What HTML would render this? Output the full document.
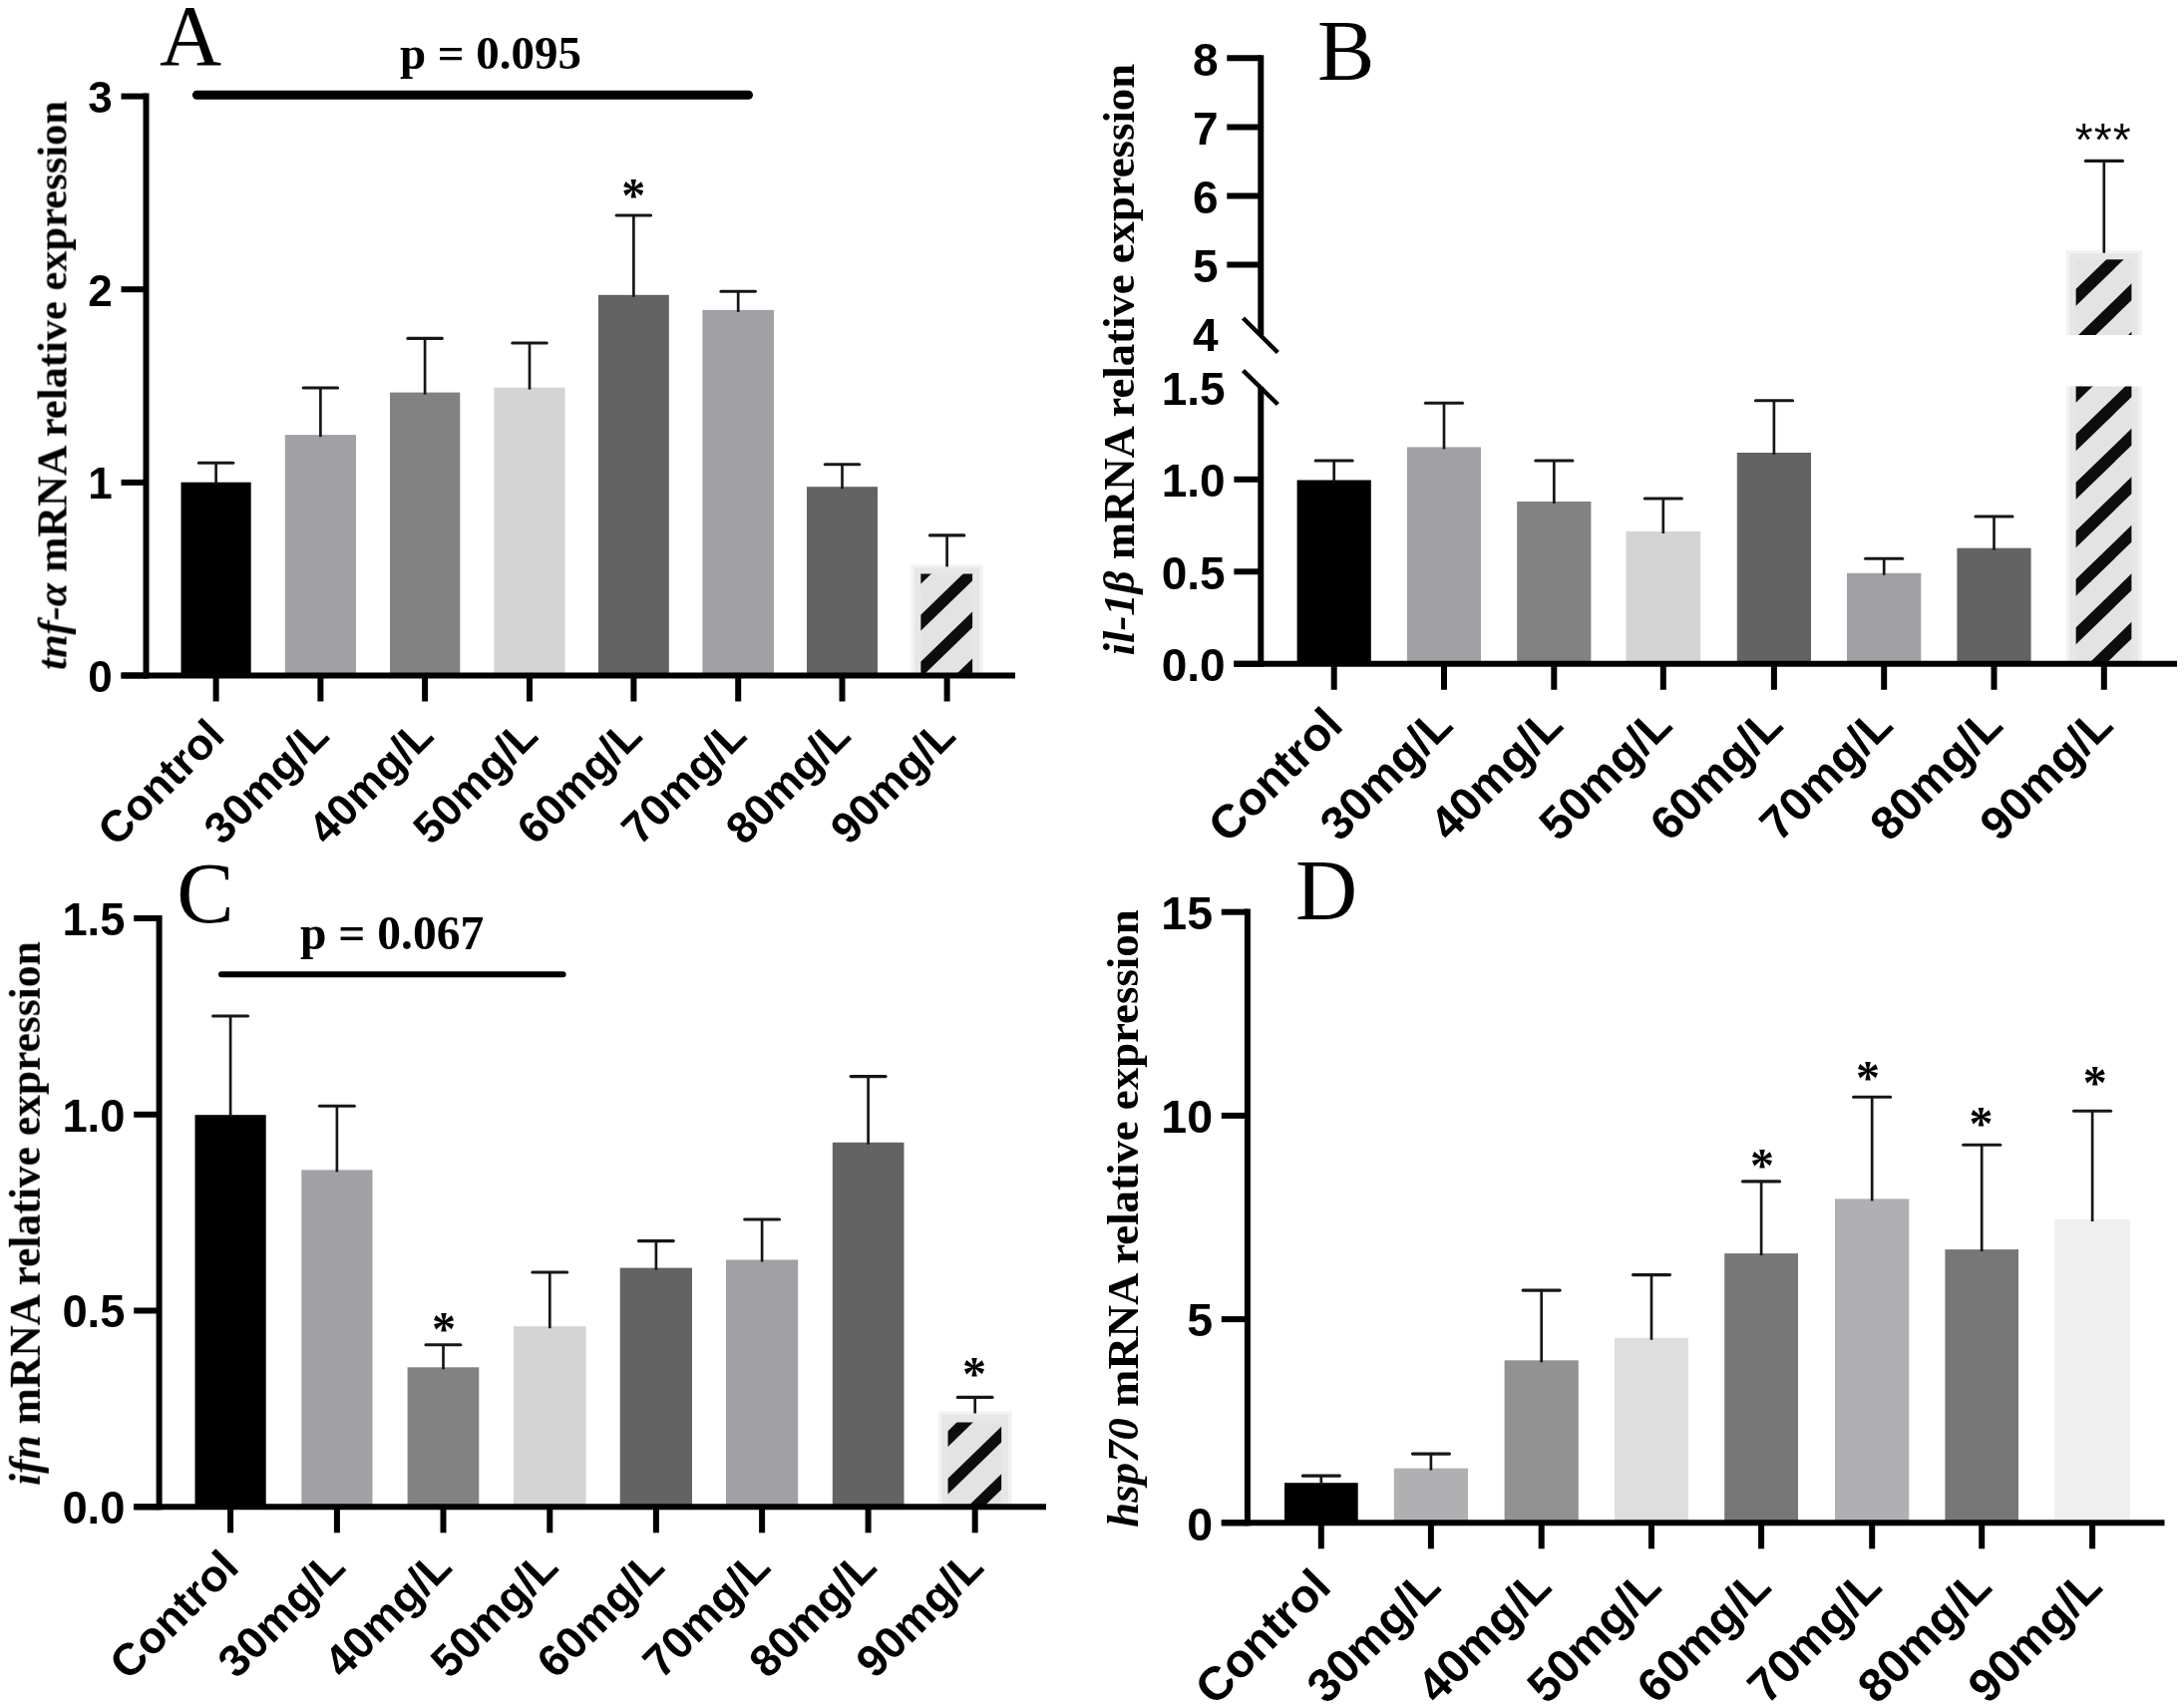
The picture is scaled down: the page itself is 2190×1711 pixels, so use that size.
<!DOCTYPE html>
<html lang="en">
<head>
<meta charset="utf-8">
<title>mRNA relative expression</title>
<style>html,body{margin:0;padding:0;background:#fff;}body{width:2190px;height:1711px;overflow:hidden;}svg text{fill:#000;}</style>
</head>
<body>
<svg width="2190" height="1711" viewBox="0 0 2190 1711" style="display:block">
<rect width="2190" height="1711" fill="#fff"/>
<g filter="url(#soft)">
<g id="panelA">
<rect x="181.5" y="483.7" width="70.2" height="193.8" fill="#000"/>
<line x1="216.6" y1="464.2" x2="216.6" y2="485.7" stroke="#181818" stroke-width="2.7" stroke-linecap="butt"/>
<line x1="199.4" y1="464.2" x2="233.8" y2="464.2" stroke="#181818" stroke-width="3.1" stroke-linecap="round"/>
<rect x="285.8" y="436.1" width="71.2" height="241.4" fill="#a1a0a5"/>
<line x1="321.4" y1="389" x2="321.4" y2="438.1" stroke="#181818" stroke-width="2.7" stroke-linecap="butt"/>
<line x1="304.2" y1="389" x2="338.6" y2="389" stroke="#181818" stroke-width="3.1" stroke-linecap="round"/>
<rect x="391" y="393.6" width="70.3" height="283.9" fill="#828282"/>
<line x1="426.1" y1="339.4" x2="426.1" y2="395.6" stroke="#181818" stroke-width="2.7" stroke-linecap="butt"/>
<line x1="408.9" y1="339.4" x2="443.3" y2="339.4" stroke="#181818" stroke-width="3.1" stroke-linecap="round"/>
<rect x="495.4" y="388.6" width="71.2" height="288.9" fill="#d4d4d4"/>
<line x1="531" y1="344" x2="531" y2="390.6" stroke="#181818" stroke-width="2.7" stroke-linecap="butt"/>
<line x1="513.8" y1="344" x2="548.2" y2="344" stroke="#181818" stroke-width="3.1" stroke-linecap="round"/>
<rect x="600" y="295.8" width="70.8" height="381.7" fill="#636363"/>
<line x1="635.4" y1="216" x2="635.4" y2="297.8" stroke="#181818" stroke-width="2.7" stroke-linecap="butt"/>
<line x1="618.2" y1="216" x2="652.6" y2="216" stroke="#181818" stroke-width="3.1" stroke-linecap="round"/>
<rect x="704.4" y="310.9" width="71.6" height="366.6" fill="#a1a0a5"/>
<line x1="740.2" y1="292.3" x2="740.2" y2="312.9" stroke="#181818" stroke-width="2.7" stroke-linecap="butt"/>
<line x1="723" y1="292.3" x2="757.4" y2="292.3" stroke="#181818" stroke-width="3.1" stroke-linecap="round"/>
<rect x="809" y="488.2" width="71" height="189.3" fill="#636363"/>
<line x1="844.5" y1="465.7" x2="844.5" y2="490.2" stroke="#181818" stroke-width="2.7" stroke-linecap="butt"/>
<line x1="827.3" y1="465.7" x2="861.7" y2="465.7" stroke="#181818" stroke-width="3.1" stroke-linecap="round"/>
<rect x="913.5" y="566.4" width="72.2" height="111.1" fill="#f2f2f2"/>
<rect x="917" y="569.4" width="65.2" height="108.1" fill="#e7e7e7"/>
<clipPath id="Ah"><rect x="923.2" y="575.4" width="52.1" height="102.1"/></clipPath>
<g clip-path="url(#Ah)">
<rect x="923.2" y="575.4" width="52.1" height="102.1" fill="#e3e3e3"/>
<polygon points="923.2,569.7 975.3,519.2 975.3,535.3 923.2,585.8" fill="#111"/>
<polygon points="923.2,616.7 975.3,566.2 975.3,582.3 923.2,632.8" fill="#111"/>
<polygon points="923.2,663.7 975.3,613.2 975.3,629.3 923.2,679.8" fill="#111"/>
<polygon points="923.2,710.7 975.3,660.2 975.3,676.3 923.2,726.8" fill="#111"/>
</g>
<line x1="949.6" y1="536.9" x2="949.6" y2="568.4" stroke="#181818" stroke-width="2.7" stroke-linecap="butt"/>
<line x1="932.4" y1="536.9" x2="966.8" y2="536.9" stroke="#181818" stroke-width="3.1" stroke-linecap="round"/>
<line x1="121.5" y1="677.5" x2="1018" y2="677.5" stroke="#000" stroke-width="6" stroke-linecap="butt"/>
<line x1="146.5" y1="93.6" x2="146.5" y2="680.5" stroke="#000" stroke-width="6" stroke-linecap="butt"/>
<line x1="121.5" y1="677.5" x2="146.5" y2="677.5" stroke="#000" stroke-width="6" stroke-linecap="butt"/>
<text x="112.7" y="694" font-family='"Liberation Sans", sans-serif' font-size="44" font-weight="bold" text-anchor="end">0</text>
<line x1="121.5" y1="483.9" x2="146.5" y2="483.9" stroke="#000" stroke-width="6" stroke-linecap="butt"/>
<text x="112.7" y="500.4" font-family='"Liberation Sans", sans-serif' font-size="44" font-weight="bold" text-anchor="end">1</text>
<line x1="121.5" y1="290.2" x2="146.5" y2="290.2" stroke="#000" stroke-width="6" stroke-linecap="butt"/>
<text x="112.7" y="306.7" font-family='"Liberation Sans", sans-serif' font-size="44" font-weight="bold" text-anchor="end">2</text>
<line x1="121.5" y1="96.6" x2="146.5" y2="96.6" stroke="#000" stroke-width="6" stroke-linecap="butt"/>
<text x="112.7" y="113.1" font-family='"Liberation Sans", sans-serif' font-size="44" font-weight="bold" text-anchor="end">3</text>
<line x1="216.6" y1="677.5" x2="216.6" y2="703.5" stroke="#000" stroke-width="6" stroke-linecap="butt"/>
<text x="227.2" y="740" font-family='"Liberation Sans", sans-serif' font-size="44" font-weight="bold" text-anchor="end" transform="rotate(-45 227.2 740)">Control</text>
<line x1="321.4" y1="677.5" x2="321.4" y2="703.5" stroke="#000" stroke-width="6" stroke-linecap="butt"/>
<text x="332" y="740" font-family='"Liberation Sans", sans-serif' font-size="44" font-weight="bold" text-anchor="end" transform="rotate(-45 332 740)">30mg/L</text>
<line x1="426.1" y1="677.5" x2="426.1" y2="703.5" stroke="#000" stroke-width="6" stroke-linecap="butt"/>
<text x="436.8" y="740" font-family='"Liberation Sans", sans-serif' font-size="44" font-weight="bold" text-anchor="end" transform="rotate(-45 436.8 740)">40mg/L</text>
<line x1="531" y1="677.5" x2="531" y2="703.5" stroke="#000" stroke-width="6" stroke-linecap="butt"/>
<text x="541.6" y="740" font-family='"Liberation Sans", sans-serif' font-size="44" font-weight="bold" text-anchor="end" transform="rotate(-45 541.6 740)">50mg/L</text>
<line x1="635.4" y1="677.5" x2="635.4" y2="703.5" stroke="#000" stroke-width="6" stroke-linecap="butt"/>
<text x="646" y="740" font-family='"Liberation Sans", sans-serif' font-size="44" font-weight="bold" text-anchor="end" transform="rotate(-45 646 740)">60mg/L</text>
<line x1="740.2" y1="677.5" x2="740.2" y2="703.5" stroke="#000" stroke-width="6" stroke-linecap="butt"/>
<text x="750.8" y="740" font-family='"Liberation Sans", sans-serif' font-size="44" font-weight="bold" text-anchor="end" transform="rotate(-45 750.8 740)">70mg/L</text>
<line x1="844.5" y1="677.5" x2="844.5" y2="703.5" stroke="#000" stroke-width="6" stroke-linecap="butt"/>
<text x="855.1" y="740" font-family='"Liberation Sans", sans-serif' font-size="44" font-weight="bold" text-anchor="end" transform="rotate(-45 855.1 740)">80mg/L</text>
<line x1="949.6" y1="677.5" x2="949.6" y2="703.5" stroke="#000" stroke-width="6" stroke-linecap="butt"/>
<text x="960.2" y="740" font-family='"Liberation Sans", sans-serif' font-size="44" font-weight="bold" text-anchor="end" transform="rotate(-45 960.2 740)">90mg/L</text>
<text x="66" y="386.5" font-family='"Liberation Serif", serif' font-size="42.5" font-weight="bold" text-anchor="middle" transform="rotate(-90 66 386.5)"><tspan font-style="italic">tnf-α</tspan> mRNA relative expression</text>
<text x="160" y="65" font-family='"Liberation Serif", serif' font-size="86" font-weight="normal" text-anchor="start">A</text>
<text x="635.3" y="212" font-family='"Liberation Serif", serif' font-size="48" font-weight="bold" text-anchor="middle">*</text>
<text x="492" y="69" font-family='"Liberation Serif", serif' font-size="47" font-weight="bold" text-anchor="middle">p = 0.095</text>
<line x1="197.4" y1="95.2" x2="750.5" y2="95.2" stroke="#000" stroke-width="9" stroke-linecap="round"/>
</g>
<g id="panelB">
<rect x="1300.6" y="481.5" width="74.2" height="184.3" fill="#000"/>
<line x1="1337.7" y1="462" x2="1337.7" y2="483.5" stroke="#181818" stroke-width="2.7" stroke-linecap="butt"/>
<line x1="1319.1" y1="462" x2="1356.2" y2="462" stroke="#181818" stroke-width="3.1" stroke-linecap="round"/>
<rect x="1410.9" y="448.4" width="74.1" height="217.4" fill="#a1a0a5"/>
<line x1="1448" y1="404.3" x2="1448" y2="450.4" stroke="#181818" stroke-width="2.7" stroke-linecap="butt"/>
<line x1="1429.4" y1="404.3" x2="1466.5" y2="404.3" stroke="#181818" stroke-width="3.1" stroke-linecap="round"/>
<rect x="1521.2" y="503" width="74.2" height="162.8" fill="#828282"/>
<line x1="1558.3" y1="462" x2="1558.3" y2="505" stroke="#181818" stroke-width="2.7" stroke-linecap="butt"/>
<line x1="1539.8" y1="462" x2="1576.9" y2="462" stroke="#181818" stroke-width="3.1" stroke-linecap="round"/>
<rect x="1630.5" y="533" width="74.7" height="132.8" fill="#d4d4d4"/>
<line x1="1667.8" y1="500" x2="1667.8" y2="535" stroke="#181818" stroke-width="2.7" stroke-linecap="butt"/>
<line x1="1649.3" y1="500" x2="1686.4" y2="500" stroke="#181818" stroke-width="3.1" stroke-linecap="round"/>
<rect x="1741.8" y="454" width="74.2" height="211.8" fill="#636363"/>
<line x1="1778.9" y1="401.8" x2="1778.9" y2="456" stroke="#181818" stroke-width="2.7" stroke-linecap="butt"/>
<line x1="1760.4" y1="401.8" x2="1797.5" y2="401.8" stroke="#181818" stroke-width="3.1" stroke-linecap="round"/>
<rect x="1852" y="574.8" width="74.3" height="91" fill="#a1a0a5"/>
<line x1="1889.2" y1="560.2" x2="1889.2" y2="576.8" stroke="#181818" stroke-width="2.7" stroke-linecap="butt"/>
<line x1="1870.6" y1="560.2" x2="1907.7" y2="560.2" stroke="#181818" stroke-width="3.1" stroke-linecap="round"/>
<rect x="1962.4" y="549.7" width="74.2" height="116.1" fill="#636363"/>
<line x1="1999.5" y1="518" x2="1999.5" y2="551.7" stroke="#181818" stroke-width="2.7" stroke-linecap="butt"/>
<line x1="1981" y1="518" x2="2018" y2="518" stroke="#181818" stroke-width="3.1" stroke-linecap="round"/>
<rect x="2071.7" y="251.1" width="76.3" height="85" fill="#f2f2f2"/>
<rect x="2075.2" y="254.1" width="69.3" height="82" fill="#e7e7e7"/>
<clipPath id="Bh0"><rect x="2081.4" y="260.2" width="56.2" height="75.9"/></clipPath>
<g clip-path="url(#Bh0)">
<rect x="2081.4" y="260.2" width="56.2" height="75.9" fill="#e3e3e3"/>
<polygon points="2081.4,290.1 2137.6,235.6 2137.6,252.5 2081.4,307" fill="#111"/>
<polygon points="2081.4,338.6 2137.6,284.1 2137.6,301 2081.4,355.5" fill="#111"/>
<polygon points="2081.4,387.1 2137.6,332.6 2137.6,349.5 2081.4,404" fill="#111"/>
</g>
<rect x="2071.7" y="387.6" width="76.3" height="278.2" fill="#f2f2f2"/>
<rect x="2075.2" y="387.6" width="69.3" height="278.2" fill="#e7e7e7"/>
<clipPath id="Bh1"><rect x="2081.4" y="387.6" width="56.2" height="278.2"/></clipPath>
<g clip-path="url(#Bh1)">
<rect x="2081.4" y="387.6" width="56.2" height="278.2" fill="#e3e3e3"/>
<polygon points="2081.4,387.1 2137.6,332.6 2137.6,349.5 2081.4,404" fill="#111"/>
<polygon points="2081.4,435.6 2137.6,381.1 2137.6,398 2081.4,452.5" fill="#111"/>
<polygon points="2081.4,484.1 2137.6,429.6 2137.6,446.5 2081.4,501" fill="#111"/>
<polygon points="2081.4,532.6 2137.6,478.1 2137.6,495 2081.4,549.5" fill="#111"/>
<polygon points="2081.4,581.1 2137.6,526.6 2137.6,543.5 2081.4,598" fill="#111"/>
<polygon points="2081.4,629.6 2137.6,575.1 2137.6,592 2081.4,646.5" fill="#111"/>
<polygon points="2081.4,678.1 2137.6,623.6 2137.6,640.5 2081.4,695" fill="#111"/>
</g>
<line x1="2109.8" y1="161.4" x2="2109.8" y2="253.7" stroke="#181818" stroke-width="2.7" stroke-linecap="butt"/>
<line x1="2091.3" y1="161.4" x2="2128.4" y2="161.4" stroke="#181818" stroke-width="3.1" stroke-linecap="round"/>
<line x1="1237.4" y1="665.8" x2="2183" y2="665.8" stroke="#000" stroke-width="6" stroke-linecap="butt"/>
<line x1="1264.3" y1="55.3" x2="1264.3" y2="336" stroke="#000" stroke-width="6" stroke-linecap="butt"/>
<line x1="1264.3" y1="388" x2="1264.3" y2="668.8" stroke="#000" stroke-width="6" stroke-linecap="butt"/>
<line x1="1237.4" y1="665.8" x2="1264.3" y2="665.8" stroke="#000" stroke-width="6" stroke-linecap="butt"/>
<text x="1228.6" y="683" font-family='"Liberation Sans", sans-serif' font-size="46" font-weight="bold" text-anchor="end">0.0</text>
<line x1="1237.4" y1="573.3" x2="1264.3" y2="573.3" stroke="#000" stroke-width="6" stroke-linecap="butt"/>
<text x="1228.6" y="590.5" font-family='"Liberation Sans", sans-serif' font-size="46" font-weight="bold" text-anchor="end">0.5</text>
<line x1="1237.4" y1="480.8" x2="1264.3" y2="480.8" stroke="#000" stroke-width="6" stroke-linecap="butt"/>
<text x="1228.6" y="498" font-family='"Liberation Sans", sans-serif' font-size="46" font-weight="bold" text-anchor="end">1.0</text>
<text x="1228.6" y="405.6" font-family='"Liberation Sans", sans-serif' font-size="46" font-weight="bold" text-anchor="end">1.5</text>
<text x="1221.5" y="352.2" font-family='"Liberation Sans", sans-serif' font-size="46" font-weight="bold" text-anchor="end">4</text>
<line x1="1230.3" y1="265.6" x2="1264.3" y2="265.6" stroke="#000" stroke-width="6" stroke-linecap="butt"/>
<text x="1221.5" y="282.8" font-family='"Liberation Sans", sans-serif' font-size="46" font-weight="bold" text-anchor="end">5</text>
<line x1="1230.3" y1="196.5" x2="1264.3" y2="196.5" stroke="#000" stroke-width="6" stroke-linecap="butt"/>
<text x="1221.5" y="213.7" font-family='"Liberation Sans", sans-serif' font-size="46" font-weight="bold" text-anchor="end">6</text>
<line x1="1230.3" y1="127.4" x2="1264.3" y2="127.4" stroke="#000" stroke-width="6" stroke-linecap="butt"/>
<text x="1221.5" y="144.6" font-family='"Liberation Sans", sans-serif' font-size="46" font-weight="bold" text-anchor="end">7</text>
<line x1="1230.3" y1="58.3" x2="1264.3" y2="58.3" stroke="#000" stroke-width="6" stroke-linecap="butt"/>
<text x="1221.5" y="75.5" font-family='"Liberation Sans", sans-serif' font-size="46" font-weight="bold" text-anchor="end">8</text>
<line x1="1246.5" y1="319" x2="1281.3" y2="353.5" stroke="#000" stroke-width="4.5" stroke-linecap="butt"/>
<line x1="1246.5" y1="371.7" x2="1281.3" y2="405.5" stroke="#000" stroke-width="4.5" stroke-linecap="butt"/>
<line x1="1337.7" y1="665.8" x2="1337.7" y2="691.8" stroke="#000" stroke-width="6" stroke-linecap="butt"/>
<text x="1348.8" y="729.6" font-family='"Liberation Sans", sans-serif' font-size="46.8" font-weight="bold" text-anchor="end" transform="rotate(-45 1348.8 729.6)">Control</text>
<line x1="1448" y1="665.8" x2="1448" y2="691.8" stroke="#000" stroke-width="6" stroke-linecap="butt"/>
<text x="1459" y="729.6" font-family='"Liberation Sans", sans-serif' font-size="46.8" font-weight="bold" text-anchor="end" transform="rotate(-45 1459 729.6)">30mg/L</text>
<line x1="1558.3" y1="665.8" x2="1558.3" y2="691.8" stroke="#000" stroke-width="6" stroke-linecap="butt"/>
<text x="1569.4" y="729.6" font-family='"Liberation Sans", sans-serif' font-size="46.8" font-weight="bold" text-anchor="end" transform="rotate(-45 1569.4 729.6)">40mg/L</text>
<line x1="1667.8" y1="665.8" x2="1667.8" y2="691.8" stroke="#000" stroke-width="6" stroke-linecap="butt"/>
<text x="1678.9" y="729.6" font-family='"Liberation Sans", sans-serif' font-size="46.8" font-weight="bold" text-anchor="end" transform="rotate(-45 1678.9 729.6)">50mg/L</text>
<line x1="1778.9" y1="665.8" x2="1778.9" y2="691.8" stroke="#000" stroke-width="6" stroke-linecap="butt"/>
<text x="1790" y="729.6" font-family='"Liberation Sans", sans-serif' font-size="46.8" font-weight="bold" text-anchor="end" transform="rotate(-45 1790 729.6)">60mg/L</text>
<line x1="1889.2" y1="665.8" x2="1889.2" y2="691.8" stroke="#000" stroke-width="6" stroke-linecap="butt"/>
<text x="1900.2" y="729.6" font-family='"Liberation Sans", sans-serif' font-size="46.8" font-weight="bold" text-anchor="end" transform="rotate(-45 1900.2 729.6)">70mg/L</text>
<line x1="1999.5" y1="665.8" x2="1999.5" y2="691.8" stroke="#000" stroke-width="6" stroke-linecap="butt"/>
<text x="2010.6" y="729.6" font-family='"Liberation Sans", sans-serif' font-size="46.8" font-weight="bold" text-anchor="end" transform="rotate(-45 2010.6 729.6)">80mg/L</text>
<line x1="2109.8" y1="665.8" x2="2109.8" y2="691.8" stroke="#000" stroke-width="6" stroke-linecap="butt"/>
<text x="2120.9" y="729.6" font-family='"Liberation Sans", sans-serif' font-size="46.8" font-weight="bold" text-anchor="end" transform="rotate(-45 2120.9 729.6)">90mg/L</text>
<text x="1137" y="360.7" font-family='"Liberation Serif", serif' font-size="44.7" font-weight="bold" text-anchor="middle" transform="rotate(-90 1137 360.7)"><tspan font-style="italic">il-1β</tspan> mRNA relative expression</text>
<text x="1321" y="79.5" font-family='"Liberation Serif", serif' font-size="86" font-weight="normal" text-anchor="start">B</text>
<text x="2109.3" y="156.1" font-family='"Liberation Sans", sans-serif' font-size="46" font-weight="normal" text-anchor="middle" letter-spacing="1.16">***</text>
</g>
<g id="panelC">
<rect x="195.5" y="1118.2" width="71.2" height="393.1" fill="#000"/>
<line x1="231.1" y1="1019" x2="231.1" y2="1120.2" stroke="#181818" stroke-width="2.7" stroke-linecap="butt"/>
<line x1="213.6" y1="1019" x2="248.6" y2="1019" stroke="#181818" stroke-width="3.1" stroke-linecap="round"/>
<rect x="302.3" y="1173.4" width="71.2" height="337.9" fill="#a1a0a5"/>
<line x1="337.9" y1="1109.2" x2="337.9" y2="1175.4" stroke="#181818" stroke-width="2.7" stroke-linecap="butt"/>
<line x1="320.4" y1="1109.2" x2="355.3" y2="1109.2" stroke="#181818" stroke-width="3.1" stroke-linecap="round"/>
<rect x="408.6" y="1371.3" width="71.7" height="140" fill="#828282"/>
<line x1="444.5" y1="1348.8" x2="444.5" y2="1373.3" stroke="#181818" stroke-width="2.7" stroke-linecap="butt"/>
<line x1="427" y1="1348.8" x2="461.9" y2="1348.8" stroke="#181818" stroke-width="3.1" stroke-linecap="round"/>
<rect x="515" y="1330.2" width="72.6" height="181.1" fill="#d4d4d4"/>
<line x1="551.3" y1="1276" x2="551.3" y2="1332.2" stroke="#181818" stroke-width="2.7" stroke-linecap="butt"/>
<line x1="533.9" y1="1276" x2="568.7" y2="1276" stroke="#181818" stroke-width="3.1" stroke-linecap="round"/>
<rect x="621.7" y="1271.6" width="72.3" height="239.7" fill="#636363"/>
<line x1="657.9" y1="1244.6" x2="657.9" y2="1273.6" stroke="#181818" stroke-width="2.7" stroke-linecap="butt"/>
<line x1="640.4" y1="1244.6" x2="675.3" y2="1244.6" stroke="#181818" stroke-width="3.1" stroke-linecap="round"/>
<rect x="728" y="1263.5" width="72.2" height="247.8" fill="#a1a0a5"/>
<line x1="764.1" y1="1223" x2="764.1" y2="1265.5" stroke="#181818" stroke-width="2.7" stroke-linecap="butt"/>
<line x1="746.7" y1="1223" x2="781.5" y2="1223" stroke="#181818" stroke-width="3.1" stroke-linecap="round"/>
<rect x="834.8" y="1145.8" width="71.7" height="365.5" fill="#636363"/>
<line x1="870.6" y1="1079.6" x2="870.6" y2="1147.8" stroke="#181818" stroke-width="2.7" stroke-linecap="butt"/>
<line x1="853.2" y1="1079.6" x2="888.1" y2="1079.6" stroke="#181818" stroke-width="3.1" stroke-linecap="round"/>
<rect x="940.6" y="1415.5" width="74.2" height="95.8" fill="#f2f2f2"/>
<rect x="944.1" y="1418.5" width="67.2" height="92.8" fill="#e7e7e7"/>
<clipPath id="Ch"><rect x="950.3" y="1426.6" width="54.1" height="84.7"/></clipPath>
<g clip-path="url(#Ch)">
<rect x="950.3" y="1426.6" width="54.1" height="84.7" fill="#e3e3e3"/>
<polygon points="950.3,1435.4 1004.4,1382.9 1004.4,1398.7 950.3,1451.2" fill="#111"/>
<polygon points="950.3,1482.9 1004.4,1430.4 1004.4,1446.2 950.3,1498.7" fill="#111"/>
<polygon points="950.3,1530.4 1004.4,1477.9 1004.4,1493.7 950.3,1546.2" fill="#111"/>
</g>
<line x1="977.7" y1="1401.4" x2="977.7" y2="1417.5" stroke="#181818" stroke-width="2.7" stroke-linecap="butt"/>
<line x1="960.3" y1="1401.4" x2="995.1" y2="1401.4" stroke="#181818" stroke-width="3.1" stroke-linecap="round"/>
<line x1="134.2" y1="1511.3" x2="1049" y2="1511.3" stroke="#000" stroke-width="6" stroke-linecap="butt"/>
<line x1="159.6" y1="918" x2="159.6" y2="1514.3" stroke="#000" stroke-width="6" stroke-linecap="butt"/>
<line x1="134.2" y1="1511.3" x2="159.6" y2="1511.3" stroke="#000" stroke-width="6" stroke-linecap="butt"/>
<text x="125.4" y="1528.2" font-family='"Liberation Sans", sans-serif' font-size="45.3" font-weight="bold" text-anchor="end">0.0</text>
<line x1="134.2" y1="1314.5" x2="159.6" y2="1314.5" stroke="#000" stroke-width="6" stroke-linecap="butt"/>
<text x="125.4" y="1331.4" font-family='"Liberation Sans", sans-serif' font-size="45.3" font-weight="bold" text-anchor="end">0.5</text>
<line x1="134.2" y1="1117.8" x2="159.6" y2="1117.8" stroke="#000" stroke-width="6" stroke-linecap="butt"/>
<text x="125.4" y="1134.7" font-family='"Liberation Sans", sans-serif' font-size="45.3" font-weight="bold" text-anchor="end">1.0</text>
<line x1="134.2" y1="921" x2="159.6" y2="921" stroke="#000" stroke-width="6" stroke-linecap="butt"/>
<text x="125.4" y="937.9" font-family='"Liberation Sans", sans-serif' font-size="45.3" font-weight="bold" text-anchor="end">1.5</text>
<line x1="231.1" y1="1511.3" x2="231.1" y2="1537.3" stroke="#000" stroke-width="6" stroke-linecap="butt"/>
<text x="241.7" y="1573.8" font-family='"Liberation Sans", sans-serif' font-size="44.9" font-weight="bold" text-anchor="end" transform="rotate(-45 241.7 1573.8)">Control</text>
<line x1="337.9" y1="1511.3" x2="337.9" y2="1537.3" stroke="#000" stroke-width="6" stroke-linecap="butt"/>
<text x="348.5" y="1573.8" font-family='"Liberation Sans", sans-serif' font-size="44.9" font-weight="bold" text-anchor="end" transform="rotate(-45 348.5 1573.8)">30mg/L</text>
<line x1="444.5" y1="1511.3" x2="444.5" y2="1537.3" stroke="#000" stroke-width="6" stroke-linecap="butt"/>
<text x="455.1" y="1573.8" font-family='"Liberation Sans", sans-serif' font-size="44.9" font-weight="bold" text-anchor="end" transform="rotate(-45 455.1 1573.8)">40mg/L</text>
<line x1="551.3" y1="1511.3" x2="551.3" y2="1537.3" stroke="#000" stroke-width="6" stroke-linecap="butt"/>
<text x="561.9" y="1573.8" font-family='"Liberation Sans", sans-serif' font-size="44.9" font-weight="bold" text-anchor="end" transform="rotate(-45 561.9 1573.8)">50mg/L</text>
<line x1="657.9" y1="1511.3" x2="657.9" y2="1537.3" stroke="#000" stroke-width="6" stroke-linecap="butt"/>
<text x="668.5" y="1573.8" font-family='"Liberation Sans", sans-serif' font-size="44.9" font-weight="bold" text-anchor="end" transform="rotate(-45 668.5 1573.8)">60mg/L</text>
<line x1="764.1" y1="1511.3" x2="764.1" y2="1537.3" stroke="#000" stroke-width="6" stroke-linecap="butt"/>
<text x="774.7" y="1573.8" font-family='"Liberation Sans", sans-serif' font-size="44.9" font-weight="bold" text-anchor="end" transform="rotate(-45 774.7 1573.8)">70mg/L</text>
<line x1="870.6" y1="1511.3" x2="870.6" y2="1537.3" stroke="#000" stroke-width="6" stroke-linecap="butt"/>
<text x="881.2" y="1573.8" font-family='"Liberation Sans", sans-serif' font-size="44.9" font-weight="bold" text-anchor="end" transform="rotate(-45 881.2 1573.8)">80mg/L</text>
<line x1="977.7" y1="1511.3" x2="977.7" y2="1537.3" stroke="#000" stroke-width="6" stroke-linecap="butt"/>
<text x="988.3" y="1573.8" font-family='"Liberation Sans", sans-serif' font-size="44.9" font-weight="bold" text-anchor="end" transform="rotate(-45 988.3 1573.8)">90mg/L</text>
<text x="40" y="1217.2" font-family='"Liberation Serif", serif' font-size="43.5" font-weight="bold" text-anchor="middle" transform="rotate(-90 40 1217.2)"><tspan font-style="italic">ifn</tspan> mRNA relative expression</text>
<text x="177.2" y="924.5" font-family='"Liberation Serif", serif' font-size="86" font-weight="normal" text-anchor="start">C</text>
<text x="445" y="1348.8" font-family='"Liberation Serif", serif' font-size="48" font-weight="bold" text-anchor="middle">*</text>
<text x="977" y="1393.8" font-family='"Liberation Serif", serif' font-size="48" font-weight="bold" text-anchor="middle">*</text>
<text x="393.1" y="951.8" font-family='"Liberation Serif", serif' font-size="47.5" font-weight="bold" text-anchor="middle">p = 0.067</text>
<line x1="222" y1="977.3" x2="564.6" y2="977.3" stroke="#000" stroke-width="6" stroke-linecap="round"/>
</g>
<g id="panelD">
<rect x="1288" y="1487.2" width="73.7" height="40.1" fill="#000"/>
<line x1="1324.8" y1="1480.1" x2="1324.8" y2="1489.2" stroke="#181818" stroke-width="2.7" stroke-linecap="butt"/>
<line x1="1306.3" y1="1480.1" x2="1343.4" y2="1480.1" stroke="#181818" stroke-width="3.1" stroke-linecap="round"/>
<rect x="1397.8" y="1472.6" width="74.2" height="54.7" fill="#b0b0b2"/>
<line x1="1434.9" y1="1458.1" x2="1434.9" y2="1474.6" stroke="#181818" stroke-width="2.7" stroke-linecap="butt"/>
<line x1="1416.4" y1="1458.1" x2="1453.5" y2="1458.1" stroke="#181818" stroke-width="3.1" stroke-linecap="round"/>
<rect x="1508.6" y="1364.3" width="74.2" height="163" fill="#929292"/>
<line x1="1545.7" y1="1294.1" x2="1545.7" y2="1366.3" stroke="#181818" stroke-width="2.7" stroke-linecap="butt"/>
<line x1="1527.1" y1="1294.1" x2="1564.2" y2="1294.1" stroke="#181818" stroke-width="3.1" stroke-linecap="round"/>
<rect x="1619" y="1341.8" width="74" height="185.5" fill="#dedede"/>
<line x1="1656" y1="1278.6" x2="1656" y2="1343.8" stroke="#181818" stroke-width="2.7" stroke-linecap="butt"/>
<line x1="1637.5" y1="1278.6" x2="1674.5" y2="1278.6" stroke="#181818" stroke-width="3.1" stroke-linecap="round"/>
<rect x="1729.2" y="1257.1" width="73.8" height="270.2" fill="#777"/>
<line x1="1766.1" y1="1184.9" x2="1766.1" y2="1259.1" stroke="#181818" stroke-width="2.7" stroke-linecap="butt"/>
<line x1="1747.5" y1="1184.9" x2="1784.6" y2="1184.9" stroke="#181818" stroke-width="3.1" stroke-linecap="round"/>
<rect x="1840" y="1202.4" width="74.3" height="324.9" fill="#b0b0b2"/>
<line x1="1877.2" y1="1100.2" x2="1877.2" y2="1204.4" stroke="#181818" stroke-width="2.7" stroke-linecap="butt"/>
<line x1="1858.6" y1="1100.2" x2="1895.7" y2="1100.2" stroke="#181818" stroke-width="3.1" stroke-linecap="round"/>
<rect x="1950.4" y="1253.1" width="73.6" height="274.2" fill="#777"/>
<line x1="1987.2" y1="1148.3" x2="1987.2" y2="1255.1" stroke="#181818" stroke-width="2.7" stroke-linecap="butt"/>
<line x1="1968.7" y1="1148.3" x2="2005.8" y2="1148.3" stroke="#181818" stroke-width="3.1" stroke-linecap="round"/>
<rect x="2060.2" y="1223" width="75.7" height="304.3" fill="#efefef"/>
<line x1="2098.1" y1="1114.2" x2="2098.1" y2="1225" stroke="#181818" stroke-width="2.7" stroke-linecap="butt"/>
<line x1="2079.5" y1="1114.2" x2="2116.6" y2="1114.2" stroke="#181818" stroke-width="3.1" stroke-linecap="round"/>
<line x1="1224.8" y1="1527.3" x2="2170.5" y2="1527.3" stroke="#000" stroke-width="6" stroke-linecap="butt"/>
<line x1="1250.9" y1="911.6" x2="1250.9" y2="1530.3" stroke="#000" stroke-width="6" stroke-linecap="butt"/>
<line x1="1224.8" y1="1527.3" x2="1250.9" y2="1527.3" stroke="#000" stroke-width="6" stroke-linecap="butt"/>
<text x="1216" y="1544.6" font-family='"Liberation Sans", sans-serif' font-size="46.5" font-weight="bold" text-anchor="end">0</text>
<line x1="1224.8" y1="1323.1" x2="1250.9" y2="1323.1" stroke="#000" stroke-width="6" stroke-linecap="butt"/>
<text x="1216" y="1340.4" font-family='"Liberation Sans", sans-serif' font-size="46.5" font-weight="bold" text-anchor="end">5</text>
<line x1="1224.8" y1="1118.9" x2="1250.9" y2="1118.9" stroke="#000" stroke-width="6" stroke-linecap="butt"/>
<text x="1216" y="1136.2" font-family='"Liberation Sans", sans-serif' font-size="46.5" font-weight="bold" text-anchor="end">10</text>
<line x1="1224.8" y1="914.7" x2="1250.9" y2="914.7" stroke="#000" stroke-width="6" stroke-linecap="butt"/>
<text x="1216" y="932" font-family='"Liberation Sans", sans-serif' font-size="46.5" font-weight="bold" text-anchor="end">15</text>
<line x1="1324.8" y1="1527.3" x2="1324.8" y2="1553.3" stroke="#000" stroke-width="6" stroke-linecap="butt"/>
<text x="1336.9" y="1593.6" font-family='"Liberation Sans", sans-serif' font-size="47.2" font-weight="bold" text-anchor="end" transform="rotate(-45 1336.9 1593.6)">Control</text>
<line x1="1434.9" y1="1527.3" x2="1434.9" y2="1553.3" stroke="#000" stroke-width="6" stroke-linecap="butt"/>
<text x="1447" y="1593.6" font-family='"Liberation Sans", sans-serif' font-size="47.2" font-weight="bold" text-anchor="end" transform="rotate(-45 1447 1593.6)">30mg/L</text>
<line x1="1545.7" y1="1527.3" x2="1545.7" y2="1553.3" stroke="#000" stroke-width="6" stroke-linecap="butt"/>
<text x="1557.8" y="1593.6" font-family='"Liberation Sans", sans-serif' font-size="47.2" font-weight="bold" text-anchor="end" transform="rotate(-45 1557.8 1593.6)">40mg/L</text>
<line x1="1656" y1="1527.3" x2="1656" y2="1553.3" stroke="#000" stroke-width="6" stroke-linecap="butt"/>
<text x="1668.1" y="1593.6" font-family='"Liberation Sans", sans-serif' font-size="47.2" font-weight="bold" text-anchor="end" transform="rotate(-45 1668.1 1593.6)">50mg/L</text>
<line x1="1766.1" y1="1527.3" x2="1766.1" y2="1553.3" stroke="#000" stroke-width="6" stroke-linecap="butt"/>
<text x="1778.2" y="1593.6" font-family='"Liberation Sans", sans-serif' font-size="47.2" font-weight="bold" text-anchor="end" transform="rotate(-45 1778.2 1593.6)">60mg/L</text>
<line x1="1877.2" y1="1527.3" x2="1877.2" y2="1553.3" stroke="#000" stroke-width="6" stroke-linecap="butt"/>
<text x="1889.2" y="1593.6" font-family='"Liberation Sans", sans-serif' font-size="47.2" font-weight="bold" text-anchor="end" transform="rotate(-45 1889.2 1593.6)">70mg/L</text>
<line x1="1987.2" y1="1527.3" x2="1987.2" y2="1553.3" stroke="#000" stroke-width="6" stroke-linecap="butt"/>
<text x="1999.3" y="1593.6" font-family='"Liberation Sans", sans-serif' font-size="47.2" font-weight="bold" text-anchor="end" transform="rotate(-45 1999.3 1593.6)">80mg/L</text>
<line x1="2098.1" y1="1527.3" x2="2098.1" y2="1553.3" stroke="#000" stroke-width="6" stroke-linecap="butt"/>
<text x="2110.2" y="1593.6" font-family='"Liberation Sans", sans-serif' font-size="47.2" font-weight="bold" text-anchor="end" transform="rotate(-45 2110.2 1593.6)">90mg/L</text>
<text x="1141" y="1222" font-family='"Liberation Serif", serif' font-size="44.8" font-weight="bold" text-anchor="middle" transform="rotate(-90 1141 1222)"><tspan font-style="italic">hsp70</tspan> mRNA relative expression</text>
<text x="1299" y="922" font-family='"Liberation Serif", serif' font-size="86" font-weight="normal" text-anchor="start">D</text>
<text x="1767" y="1185.3" font-family='"Liberation Serif", serif' font-size="48" font-weight="bold" text-anchor="middle">*</text>
<text x="1873" y="1097.4" font-family='"Liberation Serif", serif' font-size="48" font-weight="bold" text-anchor="middle">*</text>
<text x="1986.4" y="1143.1" font-family='"Liberation Serif", serif' font-size="48" font-weight="bold" text-anchor="middle">*</text>
<text x="2100.7" y="1101.8" font-family='"Liberation Serif", serif' font-size="48" font-weight="bold" text-anchor="middle">*</text>
</g>
</g>
<defs><filter id="soft" x="0" y="0" width="100%" height="100%" filterUnits="userSpaceOnUse"><feGaussianBlur stdDeviation="0.65"/></filter></defs>
</svg>
</body>
</html>
